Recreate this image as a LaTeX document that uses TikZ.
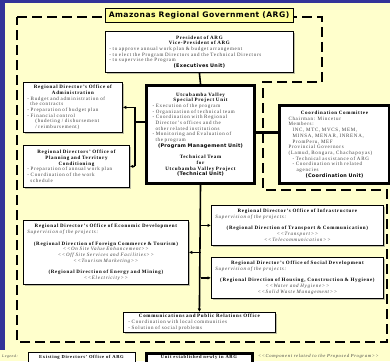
\documentclass[tikz,border=0pt]{standalone}
\usepackage{fontspec}
\setmainfont{Liberation Serif}[LetterSpace=14]
\newfontfamily\heavy{DejaVu Sans}[LetterSpace=6]
\usetikzlibrary{arrows.meta,shadows}
\definecolor{slideblue}{HTML}{333399}
\definecolor{paper}{HTML}{FFFFCC}
\definecolor{titlefill}{HTML}{FFFF99}
\definecolor{txt}{HTML}{404040}
\newcommand\cl[1]{\makebox[\linewidth]{#1}}
\newcommand\jl[1]{\makebox[\linewidth][s]{#1}}
\newcommand\unitlbl[1]{\cl{\color{black}\heavy\bfseries\fontsize{4.9}{5.7}\selectfont #1}}
\newcommand\hd[1]{\cl{\bfseries\color{black}#1}}
\newcommand\opq{<{}<}
\newcommand\clq{>{}>}
\tikzset{
  box/.style={draw=black, line width=0.8pt, fill=white, anchor=north west, inner sep=0pt,
    align=left, font=\fontsize{5}{5.7}\selectfont, text=txt,
    drop shadow={shadow xshift=1.2pt, shadow yshift=-1.2pt}},
  thickbox/.style={draw=black, line width=3pt, fill=white, anchor=north west, inner sep=0pt,
    align=left, font=\fontsize{5}{5.7}\selectfont, text=txt},
  frame/.style={draw=black, line width=2.2pt, dash pattern=on 10pt off 5pt},
  conn/.style={draw=black, line width=1.6pt},
  arr/.style={conn, -{Latex[length=3.5pt,width=3.5pt]}},
  legtext/.style={inner sep=0pt, font=\bfseries\fontsize{4.6}{5}\selectfont, text=black},
}
\begin{document}
\begin{tikzpicture}[x=1pt,y=-1pt]
\clip (0,0) rectangle (390,361);
\fill[slideblue] (0,0) rectangle (390,361);
\fill[paper] (5,3) rectangle (390,361);
\fill[paper] (0,350) rectangle (6,361);
% dashed frame
\draw[frame] (17,17) -- (322,17) -- (322,82) -- (263,82) -- (263,190) -- (387,190) -- (387,342) -- (17,342) -- cycle;
% title
\node[draw=black, line width=0.8pt, fill=titlefill, minimum width=188pt, minimum height=14pt, inner sep=0pt,
  font=\heavy\bfseries\fontsize{7.6}{8}\selectfont, drop shadow={shadow xshift=1.2pt, shadow yshift=-1.2pt}]
  (title) at (199,15) {Amazonas Regional Government (ARG)};
% president
\node[box, minimum width=188pt, minimum height=41pt, text width=180pt] (pres) at (105,31) {%
\hd{President of ARG}\\
\hd{Vice-President of ARG}\\
- to approve annual work plan \& budget arrangement\\
- to elect the Program Directors and the Technical Directors\\
- to supervise the Program\\
\unitlbl{(Executives Unit)}};
% central
\node[thickbox, minimum width=108pt, minimum height=98pt, text width=96pt] (central) at (145,84) {%
\hd{Utcubamba Valley}\\
\hd{Special Project Unit}\\
- Execution of the program\\
- Organization of technical team\\
- Coordination with Regional\\
\hspace*{3pt}Director's offices and the\\
\hspace*{3pt}other related institutions\\
- Monitoring and Evaluation of\\
\hspace*{3pt}the program\\
\unitlbl{(Program Management Unit)}\\[5.7pt]
\hd{Technical Team}\\
\hd{for}\\
\hd{Utcubamba Valley Project}\\
\unitlbl{(Technical Unit)}};
% admin
\node[box, minimum width=99pt, minimum height=50pt, text width=91pt] (admin) at (23,82) {%
\hd{Regional Director's Office of}\\
\hd{Administration}\\
\jl{- Budget and administration of}\\
\hspace*{3pt}the contracts\\
- Preparation of budget plan\\
- Financial control\\
\hspace*{8pt}(budeting / disbursement\\
\hspace*{8pt}/ reimbursement)};
% planning
\node[box, minimum width=106pt, minimum height=42pt, text width=98pt] (plan) at (23,145) {%
\hd{Regional Directors' Office of}\\
\hd{Planning and Territory}\\
\hd{Conditioning}\\
- Preparation of annual work plan\\
- Coordination of the work\\
\hspace*{3pt}schedule};
% coordination
\node[thickbox, minimum width=110pt, minimum height=78pt, text width=92pt] (coord) at (278,104) {%
\hd{Coordination Committee}\\
Chairman: Mincetur\\
Members:\\
\hspace*{4pt}\makebox[\dimexpr\linewidth-4pt][s]{INC,\ MTC,\ MVCS,\ MEM,}\\
\hspace*{4pt}MINSA, MENAR, INRENA,\\
\hspace*{4pt}PromPeru, MEF\\
Provincial Governors\\
(Lamud, Bongara, Chachapoyas)\\
\hspace*{4pt}- Technical assistance of ARG\\
\hspace*{4pt}- Coordination with related\\
\hspace*{8pt}agencies\\
\unitlbl{(Coordination Unit)}};
% economic
\node[box, minimum width=165pt, minimum height=64pt, text width=157pt] (econ) at (23,220) {%
\hd{Regional Director's Office of Economic Development}\\
{\itshape Supervision of the projects:}\\[5.7pt]
\hd{(Regional Direction of Foreign Commerce \& Tourism)}\\
\cl{\itshape \opq On Site Value Enhancement\clq}\\
\cl{\itshape \opq Off Site Services and Facilities\clq}\\
\cl{\itshape \opq Tourism Marketing\clq}\\[5.7pt]
\hd{(Regional Direction of Energy and Mining)}\\
\cl{\itshape \opq Electricity\clq}};
% infrastructure
\node[box, minimum width=172pt, minimum height=40pt, text width=164pt] (infra) at (211,205) {%
\hd{Regional Director's Office of Infrastructure}\\
{\itshape Supervision of the projects:}\\[5.7pt]
\hd{(Regional Direction of Transport \& Communication)}\\
\cl{\itshape \opq Transport\clq}\\
\cl{\itshape \opq Telecommunication\clq}};
% social
\node[box, minimum width=172pt, minimum height=41pt, text width=164pt] (social) at (211,257) {%
\hd{Regional Director's Office of Social Development}\\
{\itshape Supervision of the projects:}\\[5.7pt]
\hd{(Regional Direction of Housing, Construction \& Hygiene)}\\
\cl{\itshape \opq Water and Hygiene\clq}\\
\cl{\itshape \opq Solid Waste Management\clq}};
% communications
\node[box, minimum width=152pt, minimum height=20pt, text width=142pt] (comm) at (123,312) {%
\hd{Communications and Public Relations Office}\\
- Coordination with local communities\\
- Solution of social problems};
% connectors
\draw[conn] (pres.south) -- (central.north);
\coordinate (bj) at (135,122);
\draw[conn, line width=1.3pt] (central.west |- bj) -- (bj);
\draw[conn, line width=1.3pt] (bj |- admin.east) -- (bj |- plan.east);
\draw[arr, line width=1.3pt] (bj |- admin.east) -- (admin.east);
\draw[arr, line width=1.3pt] (bj |- plan.east) -- (plan.east);
\coordinate (cj) at (253,132);
\draw[conn, line width=3pt] (central.east |- cj) -- (coord.west |- cj);
\draw[arr] (central.south) -- (comm.north);
\draw[arr] (central.south |- infra.west) -- (infra.west);
\draw[arr] (central.south |- social.west) -- (social.west);
\draw[arr] (central.south |- econ.east) -- (econ.east);
% legend
\node[anchor=west, inner sep=0pt, font=\itshape\fontsize{3.8}{4}\selectfont, text=txt] (leg) at (2,356.5) {Legend:};
\draw[black, line width=0.8pt, fill=white] (28,352) rectangle (135,367);
\node[legtext] (lg1) at (81.5,357) {Existing Directors' Office of ARG};
\draw[black, line width=3pt, fill=white] (146,353) rectangle (252,367);
\node[legtext] (lg2) at (199,357.5) {Unit established newly in ARG};
\node[anchor=west, inner sep=0pt, font=\itshape\fontsize{4.6}{5}\selectfont, text=txt] (lg3) at (258,356.5) {\opq Component related to the Proposed Program\clq};
\end{tikzpicture}
\end{document}
